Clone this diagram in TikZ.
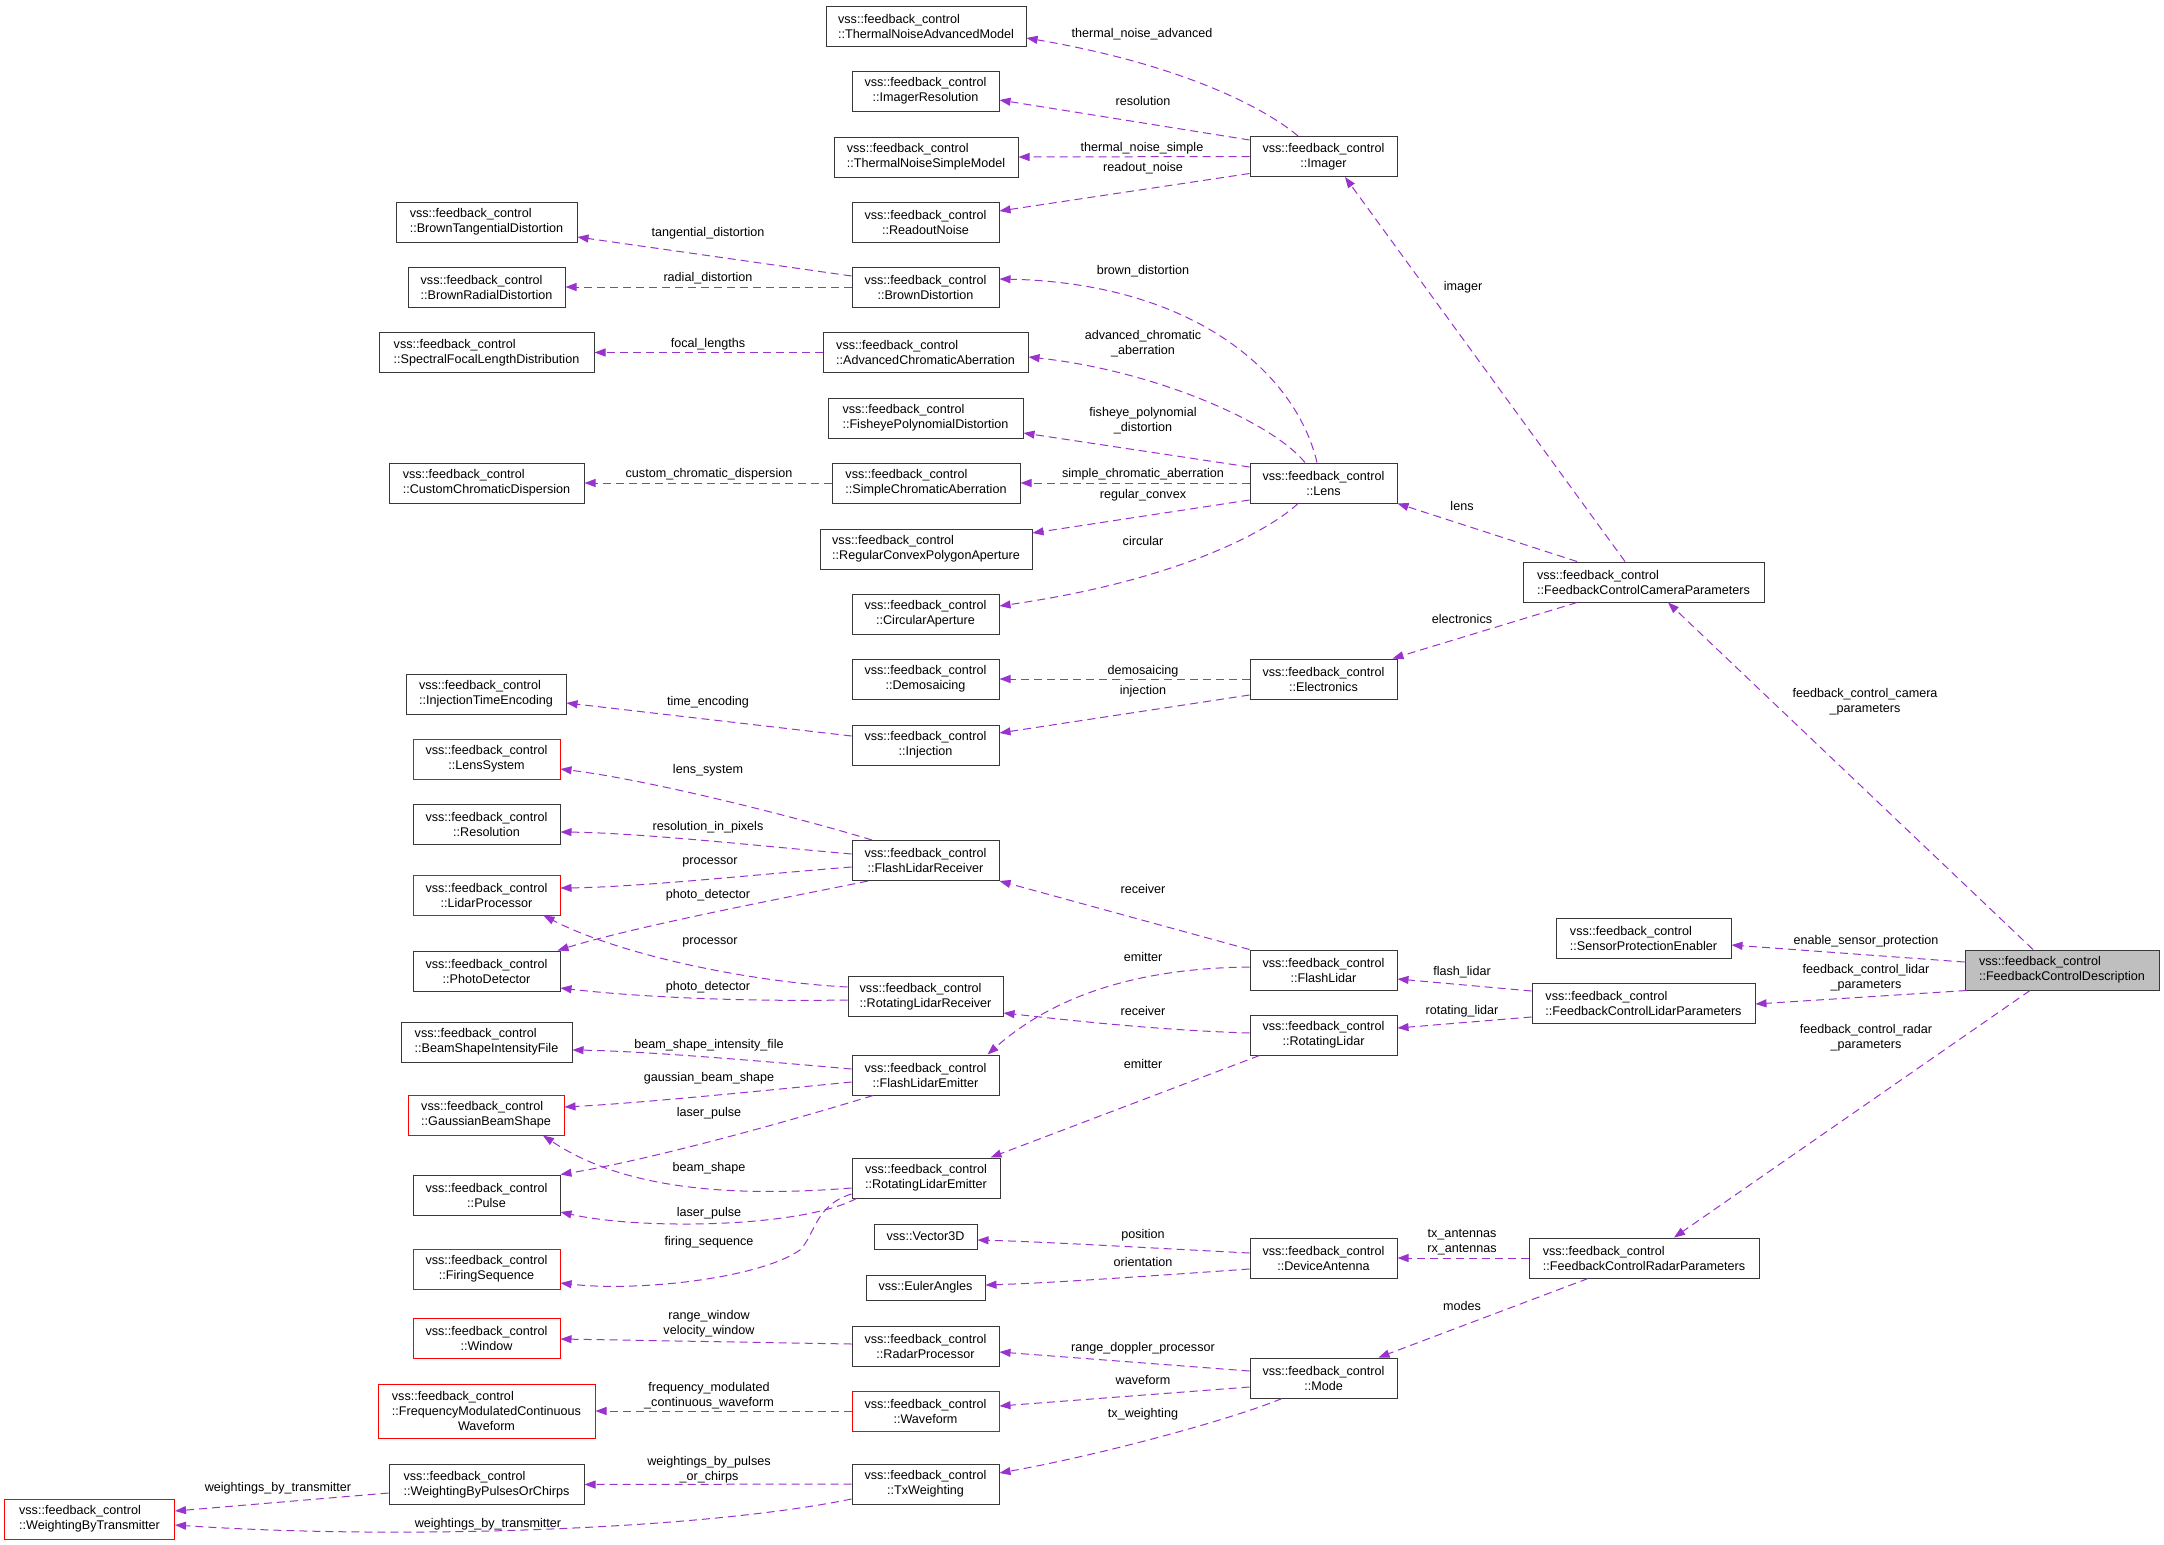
\documentclass[tikz,border=0pt]{standalone}
\usepackage{fontspec}
\setmainfont{Liberation Sans}
\usetikzlibrary{arrows.meta,calc}
\definecolor{edgec}{HTML}{9A32CD}
\definecolor{boxg}{HTML}{BFBFBF}
\newcommand{\dfont}{\fontsize{12.6}{15}\selectfont}
\newcommand{\vfc}{vss::feedback\_control}
\newcommand{\dtwo}[2]{\setbox0=\hbox{#1}\setbox2=\hbox{#2}\dimen0=\wd0 \ifdim\wd2>\dimen0 \dimen0=\wd2 \fi\vbox{\hbox to\dimen0{\box0\hfil}\hbox to\dimen0{\hfil\box2\hfil}}}
\newcommand{\dthree}[3]{\setbox0=\hbox{#1}\setbox2=\hbox{#2}\setbox4=\hbox{#3}\dimen0=\wd0 \ifdim\wd2>\dimen0 \dimen0=\wd2 \fi\ifdim\wd4>\dimen0 \dimen0=\wd4 \fi\vbox{\hbox to\dimen0{\box0\hfil}\hbox to\dimen0{\box2\hfil}\hbox to\dimen0{\hfil\box4\hfil}}}
\tikzset{
  cls/.style={draw=black!78, line width=1pt, rectangle, inner sep=0pt, minimum height=40pt, font=\dfont},
  redcls/.style={cls, draw=red},
  rel/.style={draw=edgec, line width=1pt, dash pattern=on 8pt off 5pt, -{Triangle[length=11pt,width=8pt]}},
  lbl/.style={font=\dfont, align=center, inner sep=0pt, text=black}
}
\begin{document}
\begin{tikzpicture}[x=1pt,y=-1pt]
\fill[white] (0,0) rectangle (2164,1545);
\useasboundingbox (0,0) rectangle (2164,1545);

% middle column
\node[cls, minimum width=200pt] (tnam) at (926,26) {\dtwo{\vfc}{::ThermalNoiseAdvancedModel}};
\node[cls, minimum width=147pt] (imres) at (925.5,91) {\dtwo{\vfc}{::ImagerResolution}};
\node[cls, minimum width=184pt] (tnsm) at (926,157) {\dtwo{\vfc}{::ThermalNoiseSimpleModel}};
\node[cls, minimum width=147pt] (rnoise) at (925.5,222) {\dtwo{\vfc}{::ReadoutNoise}};
\node[cls, minimum width=147pt] (bdist) at (925.5,287) {\dtwo{\vfc}{::BrownDistortion}};
\node[cls, minimum width=205pt] (aca) at (925.5,352.5) {\dtwo{\vfc}{::AdvancedChromaticAberration}};
\node[cls, minimum width=195pt] (fpd) at (925.5,418) {\dtwo{\vfc}{::FisheyePolynomialDistortion}};
\node[cls, minimum width=188pt] (sca) at (926,483) {\dtwo{\vfc}{::SimpleChromaticAberration}};
\node[cls, minimum width=212pt] (rcpa) at (926,549) {\dtwo{\vfc}{::RegularConvexPolygonAperture}};
\node[cls, minimum width=147pt] (circ) at (925.5,614) {\dtwo{\vfc}{::CircularAperture}};
\node[cls, minimum width=147pt] (demo) at (925.5,679) {\dtwo{\vfc}{::Demosaicing}};
\node[cls, minimum width=147pt] (inj) at (925.5,745) {\dtwo{\vfc}{::Injection}};
\node[cls, minimum width=147pt] (flr) at (925.5,860.5) {\dtwo{\vfc}{::FlashLidarReceiver}};
\node[cls, minimum width=155pt] (rlr) at (925.5,996.5) {\dtwo{\vfc}{::RotatingLidarReceiver}};
\node[cls, minimum width=147pt] (fle) at (925.5,1075) {\dtwo{\vfc}{::FlashLidarEmitter}};
\node[cls, minimum width=148pt] (rle) at (926,1178) {\dtwo{\vfc}{::RotatingLidarEmitter}};
\node[cls, minimum width=103pt, minimum height=25pt] (vec) at (925.5,1236.5) {vss::Vector3D};
\node[cls, minimum width=119pt, minimum height=25pt] (euler) at (925.5,1287.5) {vss::EulerAngles};
\node[cls, minimum width=147pt] (rproc) at (925.5,1346) {\dtwo{\vfc}{::RadarProcessor}};
\node[redcls, minimum width=147pt] (wave) at (925.5,1411) {\dtwo{\vfc}{::Waveform}};
\node[cls, minimum width=147pt] (txw) at (925.5,1484) {\dtwo{\vfc}{::TxWeighting}};

% left column
\node[cls, minimum width=181pt] (btd) at (486.5,222) {\dtwo{\vfc}{::BrownTangentialDistortion}};
\node[cls, minimum width=157pt] (brd) at (486.5,287) {\dtwo{\vfc}{::BrownRadialDistortion}};
\node[cls, minimum width=215pt] (sfld) at (486.5,352.5) {\dtwo{\vfc}{::SpectralFocalLengthDistribution}};
\node[cls, minimum width=195pt] (ccd) at (486.5,483) {\dtwo{\vfc}{::CustomChromaticDispersion}};
\node[cls, minimum width=160pt] (ite) at (486,694) {\dtwo{\vfc}{::InjectionTimeEncoding}};
\node[redcls, minimum width=147pt] (lsys) at (486.5,759) {\dtwo{\vfc}{::LensSystem}};
\node[cls, minimum width=147pt] (res) at (486.5,824) {\dtwo{\vfc}{::Resolution}};
\node[redcls, minimum width=147pt] (lproc) at (486.5,895) {\dtwo{\vfc}{::LidarProcessor}};
\node[cls, minimum width=147pt] (pdet) at (486.5,971) {\dtwo{\vfc}{::PhotoDetector}};
\node[cls, minimum width=171pt] (bsif) at (486.5,1042) {\dtwo{\vfc}{::BeamShapeIntensityFile}};
\node[redcls, minimum width=156pt] (gbs) at (486,1115) {\dtwo{\vfc}{::GaussianBeamShape}};
\node[cls, minimum width=147pt] (pulse) at (486.5,1195) {\dtwo{\vfc}{::Pulse}};
\node[redcls, minimum width=147pt] (fseq) at (486.5,1269) {\dtwo{\vfc}{::FiringSequence}};
\node[redcls, minimum width=147pt] (win) at (486.5,1338) {\dtwo{\vfc}{::Window}};
\node[redcls, minimum width=217pt, minimum height=54pt] (fmcw) at (486.5,1411) {\dthree{\vfc}{::FrequencyModulatedContinuous}{Waveform}};
\node[cls, minimum width=195pt] (wbpoc) at (486.5,1484.5) {\dtwo{\vfc}{::WeightingByPulsesOrChirps}};
\node[redcls, minimum width=170pt] (wbt) at (89.5,1519) {\dtwo{\vfc}{::WeightingByTransmitter}};

% right-middle column
\node[cls, minimum width=147pt] (imager) at (1323.5,156.5) {\dtwo{\vfc}{::Imager}};
\node[cls, minimum width=147pt] (lens) at (1323.5,483) {\dtwo{\vfc}{::Lens}};
\node[cls, minimum width=147pt] (elec) at (1323.5,679) {\dtwo{\vfc}{::Electronics}};
\node[cls, minimum width=147pt] (flidar) at (1323.5,970) {\dtwo{\vfc}{::FlashLidar}};
\node[cls, minimum width=147pt] (rlidar) at (1323.5,1035) {\dtwo{\vfc}{::RotatingLidar}};
\node[cls, minimum width=147pt] (dant) at (1323.5,1258) {\dtwo{\vfc}{::DeviceAntenna}};
\node[cls, minimum width=147pt] (mode) at (1323.5,1378) {\dtwo{\vfc}{::Mode}};

% right columns
\node[cls, minimum width=241pt] (camp) at (1643.5,582) {\dtwo{\vfc}{::FeedbackControlCameraParameters}};
\node[cls, minimum width=175pt] (spe) at (1643.5,938) {\dtwo{\vfc}{::SensorProtectionEnabler}};
\node[cls, minimum width=223pt] (lidp) at (1643.5,1003) {\dtwo{\vfc}{::FeedbackControlLidarParameters}};
\node[cls, minimum width=230pt] (radp) at (1644,1258) {\dtwo{\vfc}{::FeedbackControlRadarParameters}};
\node[cls, minimum width=194pt, fill=boxg] (desc) at (2062,970) {\dtwo{\vfc}{::FeedbackControlDescription}};

% edges
\draw[rel] ($(imager.north)+(-25.5,0)$) .. controls (1270,112) and (1190,66) .. ($(tnam.east)+(0,12)$);
\draw[rel] ($(imager.west)+(0,-16.5)$) -- ($(imres.east)+(0,9)$);
\draw[rel] (imager.west) -- (tnsm.east);
\draw[rel] ($(imager.west)+(0,17)$) -- ($(rnoise.east)+(0,-11)$);
\draw[rel] ($(lens.north)+(-6.5,0)$) .. controls (1295,370) and (1190,283) .. ($(bdist.east)+(0,-8)$);
\draw[rel] ($(bdist.west)+(0,-11)$) -- ($(btd.east)+(0,15)$);
\draw[rel] (bdist.west) -- (brd.east);
\draw[rel] (aca.west) -- (sfld.east);
\draw[rel] ($(lens.north)+(-18.5,0)$) .. controls (1270,420) and (1150,370) .. ($(aca.east)+(0,4.5)$);
\draw[rel] ($(lens.west)+(0,-16)$) -- ($(fpd.east)+(0,15)$);
\draw[rel] (lens.west) -- (sca.east);
\draw[rel] (sca.west) -- (ccd.east);
\draw[rel] ($(lens.west)+(0,17)$) -- ($(rcpa.east)+(0,-16)$);
\draw[rel] ($(lens.south)+(-25.5,0)$) .. controls (1270,530) and (1180,580) .. ($(circ.east)+(0,-8)$);
\draw[rel] ($(camp.north)+(-18.5,0)$) -- ($(imager.south)+(21.5,0)$);
\draw[rel] ($(camp.north)+(-66.5,0)$) -- (lens.south east);
\draw[rel] ($(camp.south)+(-66.5,0)$) -- ($(elec.north east)+(-5,0)$);
\draw[rel] (elec.west) -- (demo.east);
\draw[rel] ($(elec.west)+(0,16)$) -- ($(inj.east)+(0,-12)$);
\draw[rel] ($(inj.west)+(0,-9)$) -- ($(ite.east)+(0,9)$);
\draw[rel] ($(flr.north)+(-53.5,0)$) .. controls (800,818) and (650,780) .. ($(lsys.east)+(0,10)$);
\draw[rel] ($(flr.west)+(0,-6.5)$) .. controls (750,845) and (640,833) .. ($(res.east)+(0,8)$);
\draw[rel] ($(flr.west)+(0,6.5)$) .. controls (750,875) and (640,887) .. ($(lproc.east)+(0,-7)$);
\draw[rel] ($(flr.south)+(-57.5,0)$) .. controls (800,895) and (640,925) .. ($(pdet.north east)+(-3,0)$);
\draw[rel] ($(rlr.west)+(0,-9.5)$) .. controls (750,982) and (620,955) .. ($(lproc.south)+(57,0)$);
\draw[rel] ($(rlr.west)+(0,3.5)$) .. controls (720,1002) and (620,995) .. ($(pdet.east)+(0,17)$);
\draw[rel] (flidar.north west) -- (flr.south east);
\draw[rel] ($(flidar.west)+(0,-3)$) .. controls (1150,968) and (1060,990) .. ($(fle.north east)+(-12,0)$);
\draw[rel] ($(rlidar.west)+(0,-2)$) .. controls (1150,1030) and (1050,1018) .. ($(rlr.east)+(0,16.5)$);
\draw[rel] ($(rlidar.south west)+(10,0)$) -- ($(rle.north east)+(-10,0)$);
\draw[rel] ($(fle.west)+(0,-6)$) .. controls (750,1060) and (640,1051) .. ($(bsif.east)+(0,8)$);
\draw[rel] ($(fle.west)+(0,7)$) .. controls (750,1092) and (640,1103) .. ($(gbs.east)+(0,-8)$);
\draw[rel] ($(fle.south)+(-52.5,0)$) .. controls (810,1115) and (660,1158) .. (pulse.north east);
\draw[rel] ($(rle.west)+(0,10)$) .. controls (700,1200) and (610,1180) .. ($(gbs.south)+(57,0)$);
\draw[rel] ($(rle.south west)+(5,0)$) .. controls (800,1228) and (640,1230) .. ($(pulse.east)+(0,17)$);
\draw[rel] ($(rle.west)+(0,16)$) .. controls (815,1205) and (815,1235) .. (800,1250) .. controls (760,1278) and (640,1292) .. ($(fseq.east)+(0,14)$);
\draw[rel] ($(dant.west)+(0,-5)$) .. controls (1150,1248) and (1050,1242) .. ($(vec.east)+(0,3.5)$);
\draw[rel] ($(dant.west)+(0,11)$) .. controls (1150,1276) and (1050,1283) .. ($(euler.east)+(0,-2.5)$);
\draw[rel] (radp.west) -- (dant.east);
\draw[rel] ($(radp.south)+(-56,0)$) -- ($(mode.north east)+(-19,0)$);
\draw[rel] ($(mode.west)+(0,-7)$) -- ($(rproc.east)+(0,6)$);
\draw[rel] ($(mode.west)+(0,9)$) -- ($(wave.east)+(0,-5)$);
\draw[rel] ($(mode.south)+(-41.5,0)$) .. controls (1230,1420) and (1100,1455) .. ($(txw.east)+(0,-11)$);
\draw[rel] ($(rproc.west)+(0,-2)$) -- ($(win.east)+(0,1)$);
\draw[rel] (wave.west) -- (fmcw.east);
\draw[rel] (txw.west) -- (wbpoc.east);
\draw[rel] ($(txw.west)+(0,15)$) .. controls (700,1530) and (400,1540) .. ($(wbt.east)+(0,6)$);
\draw[rel] ($(wbpoc.west)+(0,8.5)$) -- ($(wbt.east)+(0,-8)$);
\draw[rel] ($(desc.north)+(-29,0)$) -- ($(camp.south)+(24.5,0)$);
\draw[rel] ($(desc.west)+(0,-8)$) -- ($(spe.east)+(0,7)$);
\draw[rel] ($(desc.south west)+(2,0)$) -- ($(lidp.east)+(0,1)$);
\draw[rel] ($(desc.south)+(-32,0)$) -- ($(radp.north)+(30,0)$);
\draw[rel] ($(lidp.west)+(0,-12)$) -- ($(flidar.east)+(0,9)$);
\draw[rel] ($(lidp.west)+(0,14)$) -- ($(rlidar.east)+(0,-7)$);

% labels
\node[lbl] (l1) at (1142,34) {thermal\_noise\_advanced};
\node[lbl] (l2) at (1143,101) {resolution};
\node[lbl] (l3) at (1142,148) {thermal\_noise\_simple};
\node[lbl] (l4) at (1143,168) {readout\_noise};
\node[lbl] (l5) at (708,233) {tangential\_distortion};
\node[lbl] (l6) at (708,278) {radial\_distortion};
\node[lbl] (l7) at (1143,271) {brown\_distortion};
\node[lbl] (l8) at (708,344) {focal\_lengths};
\node[lbl] (l9) at (1143,344) {advanced\_chromatic\\\_aberration};
\node[lbl] (l10) at (1143,420.5) {fisheye\_polynomial\\\_distortion};
\node[lbl] (l11) at (709,474) {custom\_chromatic\_dispersion};
\node[lbl] (l12) at (1143,474) {simple\_chromatic\_aberration};
\node[lbl] (l13) at (1143,495) {regular\_convex};
\node[lbl] (l14) at (1143,541) {circular};
\node[lbl] (l15) at (1463,287) {imager};
\node[lbl] (l16) at (1462,506) {lens};
\node[lbl] (l17) at (1462,619) {electronics};
\node[lbl] (l18) at (1143,671) {demosaicing};
\node[lbl] (l19) at (1143,691) {injection};
\node[lbl] (l20) at (708,702) {time\_encoding};
\node[lbl] (l21) at (708,770) {lens\_system};
\node[lbl] (l22) at (708,827) {resolution\_in\_pixels};
\node[lbl] (l23) at (710,862) {processor};
\node[lbl] (l24) at (708,895) {photo\_detector};
\node[lbl] (l25) at (710,942) {processor};
\node[lbl] (l26) at (708,987) {photo\_detector};
\node[lbl] (l27) at (1143,889) {receiver};
\node[lbl] (l28) at (1143,957) {emitter};
\node[lbl] (l29) at (1462,972) {flash\_lidar};
\node[lbl] (l30) at (1143,1011) {receiver};
\node[lbl] (l31) at (1462,1011) {rotating\_lidar};
\node[lbl] (l32) at (1143,1064) {emitter};
\node[lbl] (l33) at (709,1045) {beam\_shape\_intensity\_file};
\node[lbl] (l34) at (709,1078) {gaussian\_beam\_shape};
\node[lbl] (l35) at (709,1113) {laser\_pulse};
\node[lbl] (l36) at (709,1168) {beam\_shape};
\node[lbl] (l37) at (709,1213) {laser\_pulse};
\node[lbl] (l38) at (709,1242) {firing\_sequence};
\node[lbl] (l39) at (1143,1235) {position};
\node[lbl] (l40) at (1143,1262) {orientation};
\node[lbl] (l41) at (1462,1242.5) {tx\_antennas\\rx\_antennas};
\node[lbl] (l42) at (1462,1306) {modes};
\node[lbl] (l43) at (709,1324) {range\_window\\velocity\_window};
\node[lbl] (l44) at (1143,1348) {range\_doppler\_processor};
\node[lbl] (l45) at (1143,1380) {waveform};
\node[lbl] (l46) at (709,1396) {frequency\_modulated\\\_continuous\_waveform};
\node[lbl] (l47) at (1143,1414) {tx\_weighting};
\node[lbl] (l48) at (709,1469.5) {weightings\_by\_pulses\\\_or\_chirps};
\node[lbl] (l49) at (278,1488) {weightings\_by\_transmitter};
\node[lbl] (l50) at (488,1524) {weightings\_by\_transmitter};
\node[lbl] (l51) at (1865,702) {feedback\_control\_camera\\\_parameters};
\node[lbl] (l52) at (1866,941) {enable\_sensor\_protection};
\node[lbl] (l53) at (1866,977.5) {feedback\_control\_lidar\\\_parameters};
\node[lbl] (l54) at (1866,1038) {feedback\_control\_radar\\\_parameters};
\end{tikzpicture}
\end{document}
